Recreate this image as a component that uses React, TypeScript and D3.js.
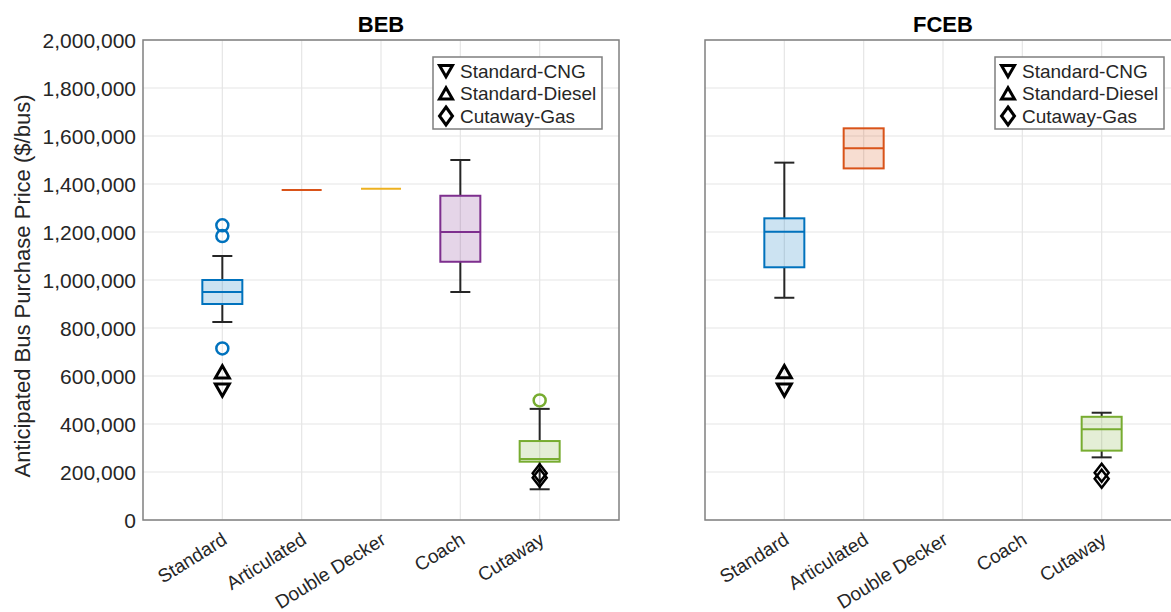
import * as d3 from "d3";

const categories = ["Standard", "Articulated", "Double Decker", "Coach", "Cutaway"];
const panelTitles = ["BEB", "FCEB"];

// box stats per category (null = no data)
const bebMin = [825000, 1375000, 1380000, 950000, 128000];
const bebQ1 = [900000, 1375000, 1380000, 1076000, 243000];
const bebMedian = [950000, 1375000, 1380000, 1200000, 254000];
const bebQ3 = [1000000, 1375000, 1380000, 1351000, 329000];
const bebMax = [1100000, 1375000, 1380000, 1500000, 463000];
const bebOutliers = [[1228000, 1183000, 715000], [], [], [], [498000]];

const fcebMin = [926000, 1465000, null, null, 261000];
const fcebQ1 = [1053000, 1465000, null, null, 289000];
const fcebMedian = [1201000, 1549000, null, null, 378000];
const fcebQ3 = [1257000, 1632000, null, null, 430000];
const fcebMax = [1489000, 1632000, null, null, 447000];
const fcebOutliers = [[], [], [], [], []];

// reference (conventional) bus prices
const standardCNG = [542000, 542000];
const standardDiesel = [616000, 617000];
const cutawayGasBEB = [195000, 176000];
const cutawayGasFCEB = [197000, 172000];

const legendLabels = ["Standard-CNG", "Standard-Diesel", "Cutaway-Gas"];
const yTicks = d3.range(0, 2000001, 200000);

const colors = ["#0072BD", "#D95319", "#EDB120", "#7E2F8E", "#77AC30"];

const W = 1171, H = 612;
const top = 40, bottom = 520, pw = 476;
const panelLeft = [143, 705];
const font = "'Liberation Sans', Arial, sans-serif";

const yScale = d3.scaleLinear().domain([0, 2000000]).range([bottom, top]);

function triDown(x: number, y: number, s: number) {
  return `M${x - s},${y - s * 0.85}L${x + s},${y - s * 0.85}L${x},${y + s * 0.9}Z`;
}
function triUp(x: number, y: number, s: number) {
  return `M${x - s},${y + s * 0.85}L${x + s},${y + s * 0.85}L${x},${y - s * 0.9}Z`;
}
function diamond(x: number, y: number, w: number, h: number) {
  return `M${x},${y - h}L${x + w},${y}L${x},${y + h}L${x - w},${y}Z`;
}

function Panel({ p }: { p: number }) {
  const x0 = panelLeft[p];
  const xScale = d3.scaleLinear().domain([0, 6]).range([x0, x0 + pw]);
  const mins = p === 0 ? bebMin : fcebMin;
  const q1s = p === 0 ? bebQ1 : fcebQ1;
  const meds = p === 0 ? bebMedian : fcebMedian;
  const q3s = p === 0 ? bebQ3 : fcebQ3;
  const maxs = p === 0 ? bebMax : fcebMax;
  const outs = p === 0 ? bebOutliers : fcebOutliers;
  const gas = p === 0 ? cutawayGasBEB : cutawayGasFCEB;
  const bw = 20, cap = 10;
  const lx = x0 + 290, ly = 57;

  return (
    <g>
      {/* grid */}
      {yTicks.map((t) => (
        <line key={"h" + t} x1={x0} x2={x0 + pw} y1={yScale(t)} y2={yScale(t)} stroke="#e6e6e6" strokeWidth={1.2} />
      ))}
      {categories.map((c, i) => (
        <line key={"v" + c} x1={xScale(i + 1)} x2={xScale(i + 1)} y1={top} y2={bottom} stroke="#e6e6e6" strokeWidth={1.2} />
      ))}
      {/* boxes */}
      {categories.map((c, i) => {
        if (meds[i] == null) return null;
        const cx = xScale(i + 1);
        const flat = q1s[i] === q3s[i];
        return (
          <g key={"b" + c}>
            {mins[i]! < q1s[i]! && (
              <g stroke="#262626" strokeWidth={2}>
                <line x1={cx} x2={cx} y1={yScale(mins[i]!)} y2={yScale(q1s[i]!)} />
                <line x1={cx - cap} x2={cx + cap} y1={yScale(mins[i]!)} y2={yScale(mins[i]!)} />
              </g>
            )}
            {maxs[i]! > q3s[i]! && (
              <g stroke="#262626" strokeWidth={2}>
                <line x1={cx} x2={cx} y1={yScale(maxs[i]!)} y2={yScale(q3s[i]!)} />
                <line x1={cx - cap} x2={cx + cap} y1={yScale(maxs[i]!)} y2={yScale(maxs[i]!)} />
              </g>
            )}
            {!flat && (
              <rect x={cx - bw} width={bw * 2} y={yScale(q3s[i]!)} height={yScale(q1s[i]!) - yScale(q3s[i]!)}
                fill={colors[i]} fillOpacity={0.2} stroke={colors[i]} strokeWidth={2} />
            )}
            <line x1={cx - bw} x2={cx + bw} y1={yScale(meds[i]!)} y2={yScale(meds[i]!)} stroke={colors[i]} strokeWidth={2} />
            {outs[i].map((o, k) => (
              <circle key={k} cx={cx} cy={yScale(o)} r={6} fill="none" stroke={colors[i]} strokeWidth={2.5} />
            ))}
          </g>
        );
      })}
      {/* conventional bus markers */}
      <g fill="none" stroke="#000" strokeWidth={3} strokeLinejoin="miter">
        <path d={triUp(xScale(1), yScale(standardDiesel[p]), 7)} />
        <path d={triDown(xScale(1), yScale(standardCNG[p]), 7)} />
        {gas.map((g, k) => (
          <path key={k} d={diamond(xScale(5), yScale(g), 7, 9)} strokeWidth={2.5} />
        ))}
      </g>
      {/* frame */}
      <rect x={x0} y={top} width={pw} height={bottom - top} fill="none" stroke="#808080" strokeWidth={1.5} />
      {/* title */}
      <text x={xScale(3)} y={32} textAnchor="middle" fontWeight="bold" fontSize={22} fill="#000">{panelTitles[p]}</text>
      {/* x labels */}
      {categories.map((c, i) => (
        <text key={"xl" + c} transform={`translate(${xScale(i + 1) + 6},${543}) rotate(-32)`} textAnchor="end"
          fontSize={19} fill="#262626">{c}</text>
      ))}
      {/* legend */}
      <g>
        <rect x={lx} y={ly} width={169} height={72} fill="#fff" stroke="#7f7f7f" strokeWidth={1.5} />
        {legendLabels.map((l, k) => {
          const yy = ly + 14 + k * 22.5;
          const mx = lx + 13;
          const d = k === 0 ? triDown(mx, yy, 6.5) : k === 1 ? triUp(mx, yy, 6.5) : diamond(mx, yy, 6.5, 9);
          return (
            <g key={l}>
              <path d={d} fill="none" stroke="#000" strokeWidth={3} />
              <text x={lx + 27} y={yy + 6.5} fontSize={19} fill="#262626">{l}</text>
            </g>
          );
        })}
      </g>
    </g>
  );
}

export default function App() {
  return (
    <svg width={W} height={H} style={{ position: "absolute", left: 0, top: 0, background: "#fff" }} fontFamily={font}>
      <rect width={W} height={H} fill="#fff" />
      {/* y axis labels (left panel only) */}
      {yTicks.map((t) => (
        <text key={t} x={panelLeft[0] - 7} y={yScale(t) + 7.5} textAnchor="end" fontSize={21} fill="#262626">
          {d3.format(",")(t)}
        </text>
      ))}
      <text transform={`translate(30,${(top + bottom) / 2 + 6}) rotate(-90)`} textAnchor="middle" fontSize={22}
        textLength={383} lengthAdjust="spacingAndGlyphs" fill="#262626">
        Anticipated Bus Purchase Price ($/bus)
      </text>
      <Panel p={0} />
      <Panel p={1} />
    </svg>
  );
}
